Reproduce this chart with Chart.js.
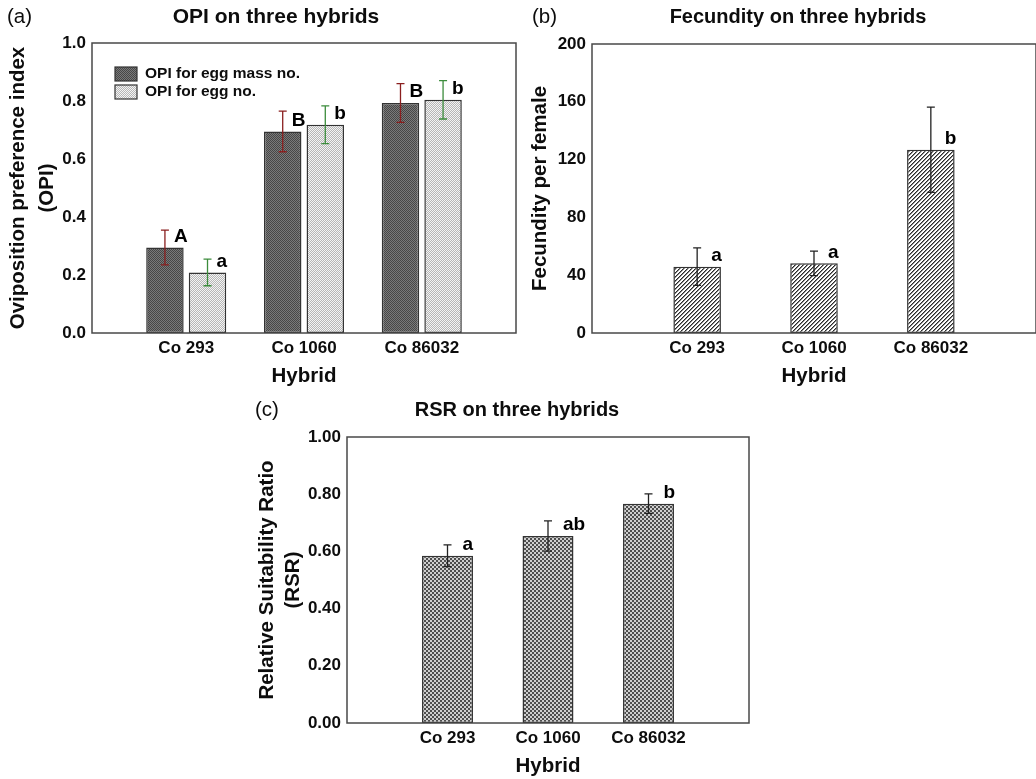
<!DOCTYPE html>
<html>
<head>
<meta charset="utf-8">
<title>Hybrids</title>
<script src="https://cdn.jsdelivr.net/npm/chart.js@4.4.0/dist/chart.umd.min.js"></script>
<style>
  html, body { margin: 0; padding: 0; background: #fff; }
  body { width: 1036px; height: 779px; position: relative; overflow: hidden; }
  canvas { position: absolute; }
  #chartA { left: 0; top: 0; }
  #chartB { left: 520px; top: 0; }
  #chartC { left: 250px; top: 390px; }
</style>
</head>
<body>
<canvas id="chartA" width="520" height="390"></canvas>
<canvas id="chartB" width="516" height="390"></canvas>
<canvas id="chartC" width="550" height="390"></canvas>
<script>
// data
const hybrids = ["Co 293", "Co 1060", "Co 86032"];

const opiEggMass = [0.295, 0.695, 0.793];
const opiEggMassErr = [0.06, 0.07, 0.067];
const opiEggMassLetters = ["A", "B", "B"];

const opiEgg = [0.209, 0.718, 0.804];
const opiEggErr = [0.046, 0.065, 0.066];
const opiEggLetters = ["a", "b", "b"];

const fecundity = [45.9, 48.2, 126.8];
const fecundityErr = [13, 8.5, 29.5];
const fecundityLetters = ["a", "a", "b"];

const rsr = [0.585, 0.654, 0.767];
const rsrErr = [0.038, 0.053, 0.034];
const rsrLetters = ["a", "ab", "b"];

const FONT = "'Liberation Sans', Arial, sans-serif";
const INK = "#0d0d0d";

// small tile patterns for the bar fills
function makePattern(size, paint) {
  const c = document.createElement("canvas");
  c.width = size; c.height = size;
  const g = c.getContext("2d");
  paint(g);
  return g.createPattern(c, "repeat");
}
function checker(size, cell, a, b) {
  return makePattern(size, g => {
    for (let y = 0; y < size; y += cell) {
      for (let x = 0; x < size; x += cell) {
        g.fillStyle = ((x + y) / cell) % 2 === 0 ? a : b;
        g.fillRect(x, y, cell, cell);
      }
    }
  });
}
const darkDots = checker(2, 1, "#474747", "#7a7a7a");
const lightDots = checker(2, 1, "#f4f4f4", "#b6b6b6");
const rsrChecks = checker(4, 2, "#4e4e4e", "#cfcfcf");
const hatch = makePattern(4, g => {
  g.fillStyle = "#fff";
  g.fillRect(0, 0, 4, 4);
  for (let i = 0; i < 4; i++) {
    g.fillStyle = "#2a2a2a";
    g.fillRect(i, 3 - i, 1, 1);
    g.fillStyle = "#8a8a8a";
    g.fillRect(i, (4 - i) % 4, 1, 1);
  }
});

const toPoints = arr => arr.map((v, i) => ({ x: i + 1, y: v }));

// frame, title, panel tag, optional legend
const framePlugin = {
  id: "frame",
  afterDraw(chart, args, opts) {
    const { ctx, chartArea: a } = chart;
    ctx.save();
    ctx.strokeStyle = "#484848";
    ctx.lineWidth = 1.5;
    ctx.strokeRect(a.left, a.top, a.right - a.left, a.bottom - a.top);

    ctx.fillStyle = INK;
    ctx.textBaseline = "middle";
    ctx.font = "20.5px " + FONT;
    ctx.textAlign = "left";
    ctx.fillText(opts.tag, opts.tagX, opts.titleY);
    ctx.font = "bold " + opts.titleSize + "px " + FONT;
    ctx.textAlign = "center";
    ctx.fillText(opts.title, opts.titleX, opts.titleY);

    if (opts.legend) {
      const L = opts.legend;
      chart.data.datasets.forEach((ds, i) => {
        const y = L.y + i * L.step;
        ctx.fillStyle = ds.backgroundColor;
        ctx.fillRect(L.x, y, L.w, L.h);
        ctx.strokeStyle = "#333";
        ctx.lineWidth = 1.2;
        ctx.strokeRect(L.x, y, L.w, L.h);
        ctx.fillStyle = INK;
        ctx.font = "bold 15.5px " + FONT;
        ctx.textAlign = "left";
        ctx.fillText(ds.label, L.textX, y + L.h / 2);
      });
    }
    ctx.restore();
  }
};

// error bars and significance letters
const annotatePlugin = {
  id: "annotate",
  afterDatasetsDraw(chart, args, opts) {
    const ctx = chart.ctx;
    const yScale = chart.scales.y;
    chart.data.datasets.forEach((ds, di) => {
      const meta = chart.getDatasetMeta(di);
      meta.data.forEach((bar, i) => {
        const v = ds.data[i].y;
        const e = ds.errors[i];
        const yTop = yScale.getPixelForValue(v + e);
        const yBot = yScale.getPixelForValue(v - e);
        ctx.save();
        ctx.strokeStyle = ds.errorColor;
        ctx.lineWidth = 1.3;
        ctx.beginPath();
        ctx.moveTo(bar.x, yTop); ctx.lineTo(bar.x, yBot);
        ctx.moveTo(bar.x - 4, yTop); ctx.lineTo(bar.x + 4, yTop);
        ctx.moveTo(bar.x - 4, yBot); ctx.lineTo(bar.x + 4, yBot);
        ctx.stroke();
        ctx.fillStyle = "#000";
        ctx.font = "bold 19px " + FONT;
        ctx.textAlign = "left";
        ctx.textBaseline = "middle";
        ctx.fillText(ds.letters[i], bar.x + opts.letterDx, bar.y - 11);
        ctx.restore();
      });
    });
  }
};

function makeChart(id, cfg) {
  const yTitle = {
    display: true,
    text: cfg.yTitle,
    color: INK,
    font: { family: FONT, size: 20.5, weight: "bold", lineHeight: cfg.yTitleLine },
    padding: { top: cfg.yTitlePad, bottom: 0 }
  };
  return new Chart(document.getElementById(id), {
    type: "bar",
    data: { datasets: cfg.datasets },
    options: {
      responsive: false,
      animation: false,
      layout: { padding: { top: cfg.top, right: cfg.right, bottom: 0, left: 0 } },
      plugins: {
        legend: { display: false },
        tooltip: { enabled: false },
        frame: cfg.frame,
        annotate: { letterDx: cfg.letterDx }
      },
      scales: {
        x: {
          type: "linear",
          offset: false,
          min: cfg.xMin,
          max: cfg.xMax,
          afterBuildTicks: axis => { axis.ticks = hybrids.map((h, i) => ({ value: i + 1 })); },
          afterFit: axis => { axis.height = 57; },
          grid: { display: false, drawTicks: false, offset: false },
          border: { display: false },
          ticks: {
            padding: 5,
            color: INK,
            font: { family: FONT, size: 17, weight: "bold" },
            callback: v => hybrids[v - 1]
          },
          title: {
            display: true,
            text: "Hybrid",
            color: INK,
            font: { family: FONT, size: 20.5, weight: "bold" },
            padding: { top: 0, bottom: 1 }
          }
        },
        y: {
          min: 0,
          max: cfg.yMax,
          afterFit: axis => { axis.width = cfg.left; },
          grid: { display: false, drawTicks: false },
          border: { display: false },
          ticks: {
            stepSize: cfg.yStep,
            padding: 6,
            color: INK,
            font: { family: FONT, size: 17, weight: "bold" },
            callback: v => v.toFixed(cfg.yDecimals)
          },
          title: yTitle
        }
      }
    },
    plugins: [framePlugin, annotatePlugin]
  });
}

const barStyle = { borderColor: "#333", borderWidth: 1.5, borderSkipped: false };

makeChart("chartA", {
  left: 92, right: 4, top: 43,
  xMin: 0.2, xMax: 3.8,
  yMax: 1, yStep: 0.2, yDecimals: 1,
  yTitle: ["Oviposition preference index", "(OPI)"], yTitleLine: 1.415, yTitlePad: 3.5,
  letterDx: 9,
  frame: {
    tag: "(a)", tagX: 7, title: "OPI on three hybrids", titleX: 276, titleY: 17, titleSize: 21,
    legend: { x: 115, y: 67, w: 22, h: 14, step: 18, textX: 145 }
  },
  datasets: [
    Object.assign({
      label: "OPI for egg mass no.",
      data: toPoints(opiEggMass),
      errors: opiEggMassErr,
      letters: opiEggMassLetters,
      errorColor: "#8a1f1f",
      backgroundColor: darkDots,
      categoryPercentage: 0.723,
      barPercentage: 0.88
    }, barStyle),
    Object.assign({
      label: "OPI for egg no.",
      data: toPoints(opiEgg),
      errors: opiEggErr,
      letters: opiEggLetters,
      errorColor: "#3c8c3c",
      backgroundColor: lightDots,
      categoryPercentage: 0.723,
      barPercentage: 0.88
    }, barStyle)
  ]
});

makeChart("chartB", {
  left: 72, right: 0, top: 44,
  xMin: 0.1, xMax: 3.9,
  yMax: 200, yStep: 40, yDecimals: 0,
  yTitle: "Fecundity per female", yTitleLine: 1.2, yTitlePad: 7.7,
  letterDx: 14,
  frame: { tag: "(b)", tagX: 12, title: "Fecundity on three hybrids", titleX: 278, titleY: 17, titleSize: 20 },
  datasets: [
    Object.assign({
      label: "Fecundity",
      data: toPoints(fecundity),
      errors: fecundityErr,
      letters: fecundityLetters,
      errorColor: "#222",
      backgroundColor: hatch,
      categoryPercentage: 1,
      barPercentage: 0.407
    }, barStyle)
  ]
});

makeChart("chartC", {
  left: 97, right: 51, top: 47,
  xMin: 0, xMax: 4,
  yMax: 1, yStep: 0.2, yDecimals: 2,
  yTitle: ["Relative Suitability Ratio", "(RSR)"], yTitleLine: 1.27, yTitlePad: 4,
  letterDx: 15,
  frame: { tag: "(c)", tagX: 5, title: "RSR on three hybrids", titleX: 267, titleY: 20, titleSize: 20 },
  datasets: [
    Object.assign({
      label: "RSR",
      data: toPoints(rsr),
      errors: rsrErr,
      letters: rsrLetters,
      errorColor: "#222",
      backgroundColor: rsrChecks,
      categoryPercentage: 1,
      barPercentage: 0.507
    }, barStyle)
  ]
});
</script>
</body>
</html>
